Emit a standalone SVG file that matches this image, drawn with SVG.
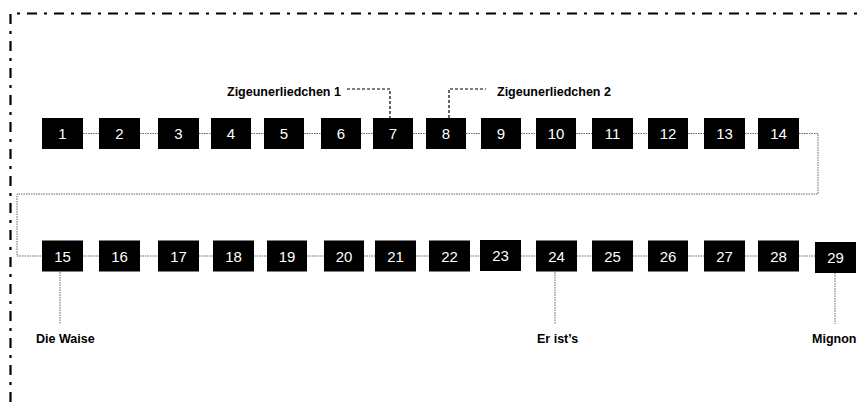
<svg xmlns="http://www.w3.org/2000/svg" width="859" height="402" viewBox="0 0 859 402">
<style>
.box{fill:#000}
.num{fill:#fff;font-family:"Liberation Sans",Arial,sans-serif;font-size:15px;text-anchor:middle}
.lbl{fill:#000;font-family:"Liberation Sans",Arial,sans-serif;font-size:12.5px;font-weight:bold}
.dot{fill:none;stroke:#666;stroke-width:1;stroke-dasharray:1.5 1}
.dash{fill:none;stroke:#000;stroke-width:1.2;stroke-dasharray:3 2}
.frame{fill:none;stroke:#000;stroke-width:2.2;stroke-dasharray:10 7 3 7}
</style>
<rect width="859" height="402" fill="#fff"/>
<path class="frame" d="M10.5,402 V13.5 H859"/>
<g id="connectors">
<path class="dot" d="M83,133.5H99 M140,133.5H158 M199,133.5H211 M251,133.5H264 M304,133.5H321 M361,133.5H373 M413,133.5H426 M466,133.5H481 M521,133.5H536 M576,133.5H592 M633,133.5H648 M688,133.5H704 M745,133.5H758"/>
<path class="dot" d="M799,133.5H818V194H17V256H42"/>
<path class="dot" d="M83,256H99 M140,256H158 M199,256H213 M254,256H267 M307,256H324 M364,256H375 M416,256H429 M470,256H480 M521,256H536 M577,256H592 M633,256H648 M688,256H704 M745,256H758 M799,256H815"/>
<path class="dot" d="M60,272V324 M555,272V324 M835,273V324"/>
<path class="dash" d="M347,89H390V118 M449,118V89H486"/>
</g>
<g id="n1"><rect class="box" x="42" y="118" width="41" height="31"/><text class="num" x="62.5" y="139">1</text></g>
<g id="n2"><rect class="box" x="99" y="118" width="41" height="31"/><text class="num" x="119.5" y="139">2</text></g>
<g id="n3"><rect class="box" x="158" y="118" width="41" height="31"/><text class="num" x="178.5" y="139">3</text></g>
<g id="n4"><rect class="box" x="211" y="118" width="40" height="31"/><text class="num" x="231" y="139">4</text></g>
<g id="n5"><rect class="box" x="264" y="118" width="40" height="31"/><text class="num" x="284" y="139">5</text></g>
<g id="n6"><rect class="box" x="321" y="118" width="40" height="31"/><text class="num" x="341" y="139">6</text></g>
<g id="n7"><rect class="box" x="373" y="118" width="40" height="31"/><text class="num" x="393" y="139">7</text></g>
<g id="n8"><rect class="box" x="426" y="118" width="40" height="31"/><text class="num" x="446" y="139">8</text></g>
<g id="n9"><rect class="box" x="481" y="118" width="40" height="31"/><text class="num" x="501" y="139">9</text></g>
<g id="n10"><rect class="box" x="536" y="118" width="40" height="31"/><text class="num" x="556" y="139">10</text></g>
<g id="n11"><rect class="box" x="592" y="118" width="41" height="31"/><text class="num" x="612.5" y="139">11</text></g>
<g id="n12"><rect class="box" x="648" y="118" width="40" height="31"/><text class="num" x="668" y="139">12</text></g>
<g id="n13"><rect class="box" x="704" y="118" width="41" height="31"/><text class="num" x="724.5" y="139">13</text></g>
<g id="n14"><rect class="box" x="758" y="118" width="41" height="31"/><text class="num" x="778.5" y="139">14</text></g>
<g id="n15"><rect class="box" x="42" y="240.5" width="41" height="31"/><text class="num" x="62.5" y="261.5">15</text></g>
<g id="n16"><rect class="box" x="99" y="240.5" width="41" height="31"/><text class="num" x="119.5" y="261.5">16</text></g>
<g id="n17"><rect class="box" x="158" y="240.5" width="41" height="31"/><text class="num" x="178.5" y="261.5">17</text></g>
<g id="n18"><rect class="box" x="213" y="240.5" width="41" height="31"/><text class="num" x="233.5" y="261.5">18</text></g>
<g id="n19"><rect class="box" x="267" y="240.5" width="40" height="31"/><text class="num" x="287" y="261.5">19</text></g>
<g id="n20"><rect class="box" x="324" y="240.5" width="40" height="31"/><text class="num" x="344" y="261.5">20</text></g>
<g id="n21"><rect class="box" x="375" y="240.5" width="41" height="31"/><text class="num" x="395.5" y="261.5">21</text></g>
<g id="n22"><rect class="box" x="429" y="240.5" width="41" height="31"/><text class="num" x="449.5" y="261.5">22</text></g>
<g id="n23"><rect class="box" x="480" y="240" width="41" height="31"/><text class="num" x="500.5" y="261">23</text></g>
<g id="n24"><rect class="box" x="536" y="240.5" width="41" height="31"/><text class="num" x="556.5" y="261.5">24</text></g>
<g id="n25"><rect class="box" x="592" y="240.5" width="41" height="31"/><text class="num" x="612.5" y="261.5">25</text></g>
<g id="n26"><rect class="box" x="648" y="240.5" width="40" height="31"/><text class="num" x="668" y="261.5">26</text></g>
<g id="n27"><rect class="box" x="704" y="240.5" width="41" height="31"/><text class="num" x="724.5" y="261.5">27</text></g>
<g id="n28"><rect class="box" x="758" y="240.5" width="41" height="31"/><text class="num" x="778.5" y="261.5">28</text></g>
<g id="n29"><rect class="box" x="815" y="242" width="41" height="31"/><text class="num" x="835.5" y="263">29</text></g>
<g id="labels">
<text class="lbl" x="227" y="96">Zigeunerliedchen 1</text>
<text class="lbl" x="497" y="96">Zigeunerliedchen 2</text>
<text class="lbl" x="36" y="343">Die Waise</text>
<text class="lbl" x="537" y="343">Er ist’s</text>
<text class="lbl" x="812" y="343">Mignon</text>
</g>
</svg>
